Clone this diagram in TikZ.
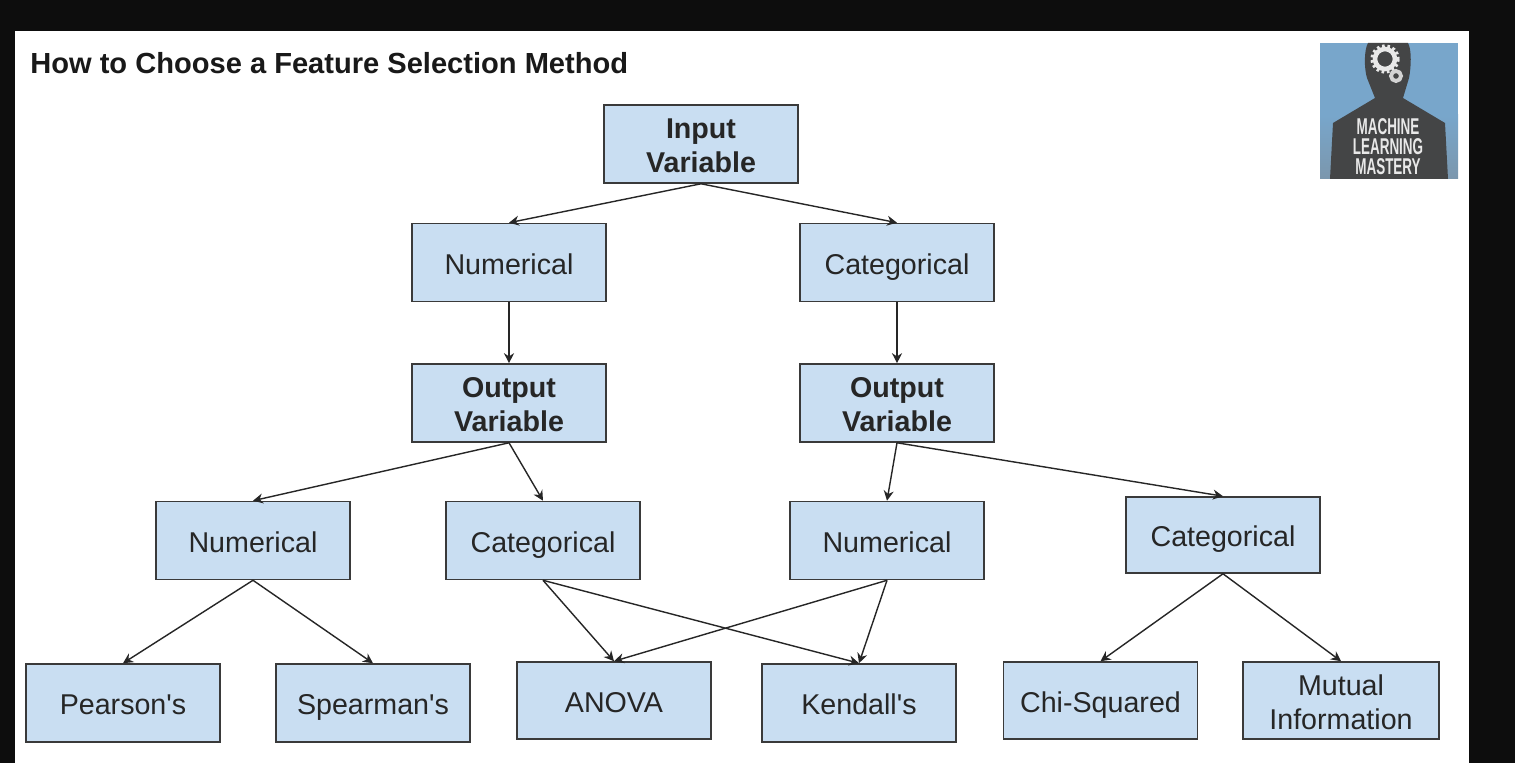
\documentclass[tikz,border=0pt]{standalone}
\usepackage{fontspec}
\setmainfont{Liberation Sans}
\usetikzlibrary{arrows.meta}

\definecolor{boxblue}{HTML}{C9DEF2}
\definecolor{boxline}{HTML}{3A3A3A}
\definecolor{darkbg}{HTML}{0D0D0D}
\definecolor{logoblue}{HTML}{78A6CB}
\definecolor{logogrey}{HTML}{444546}
\definecolor{logotext}{HTML}{E8E8E8}

\newcommand{\boxstrut}{\rule[-3.5pt]{0pt}{20.3pt}}
\newcommand{\firststrut}{\rule{0pt}{16.8pt}}

\tikzset{
  box/.style={draw=boxline, fill=boxblue, line width=0.9pt, minimum width=3.88cm, minimum height=1.56cm,
    inner sep=0pt, align=center, font=\fontsize{16.3}{19.3}\selectfont, text=black!85,
    execute at end node=\boxstrut},
  boxhead/.style={box, font=\fontsize{16.3}{19.3}\selectfont\bfseries},
  link/.style={draw=black!85, line width=0.8pt, ->, >={Stealth[length=2mm,width=2mm]}},
  logoword/.style={text=logotext, xscale=0.59, font=\fontsize{13}{15}\selectfont\bfseries, inner sep=0pt},
}

\begin{document}
\begin{tikzpicture}[x=0.02cm, y=-0.02cm]
  \useasboundingbox (0,0) rectangle (1515,763);
  \fill[darkbg] (0,0) rectangle (1515,763);
  \fill[white] (15,31) rectangle (1469,763);
  \node[anchor=base west, inner sep=0pt, font=\fontsize{16.55}{19}\selectfont\bfseries, text=black!90] (title) at (30,74) {How to Choose a Feature Selection Method};

  % logo
  \fill[logoblue] (1320,43) rectangle (1458,179);
  \shade[top color=logoblue, bottom color=logoblue!60!gray] (1320,115) rectangle (1458,179);
  \fill[logogrey] (1368,43) -- (1408,43) .. controls (1412,50) and (1411,68) .. (1409,78)
    -- (1403,98) -- (1445,123) -- (1448,179) -- (1330,179) -- (1333,123) -- (1375,98)
    -- (1367,78) .. controls (1364,68) and (1364,50) .. (1368,43) -- cycle;
  \draw[logotext, line width=2.6pt] (1385,59) circle (10);
  \draw[logotext, line width=2pt, dash pattern=on 1.5pt off 1.5pt] (1385,59) circle (13);
  \draw[logotext!80!gray, line width=2.2pt] (1396,76) circle (5);
  \node[logoword] (wordone) at (1388,127) {MACHINE};
  \node[logoword] (wordtwo) at (1388,147) {LEARNING};
  \node[logoword] (wordthree) at (1388,167) {MASTERY};

  \node[boxhead] (input) at (701,144) {\firststrut Input\\Variable};
  \node[box] (numone) at (509,262.5) {Numerical};
  \node[box] (catone) at (897,262.5) {Categorical};
  \node[boxhead] (outone) at (509,403) {\firststrut Output\\Variable};
  \node[boxhead] (outtwo) at (897,403) {\firststrut Output\\Variable};
  \node[box] (numtwo) at (253,540.5) {Numerical};
  \node[box] (cattwo) at (543,540.5) {Categorical};
  \node[box] (numthree) at (887,540.5) {Numerical};
  \node[box, minimum height=1.52cm] (catthree) at (1223,535) {Categorical};
  \node[box] (pearson) at (123,703) {Pearson\textquotesingle s};
  \node[box] (spearman) at (373,703) {Spearman\textquotesingle s};
  \node[box, minimum height=1.54cm] (anova) at (614,700.5) {ANOVA};
  \node[box] (kendall) at (859,703) {Kendall\textquotesingle s};
  \node[box, minimum height=1.54cm] (chi) at (1100.5,700.5) {Chi-Squared};
  \node[box, minimum height=1.54cm, minimum width=3.92cm] (mutual) at (1341,700.5) {\firststrut Mutual\\Information};

  \draw[link] (input.south) -- (numone.north);
  \draw[link] (input.south) -- (catone.north);
  \draw[link] (numone.south) -- (outone.north);
  \draw[link] (catone.south) -- (outtwo.north);
  \draw[link] (outone.south) -- (numtwo.north);
  \draw[link] (outone.south) -- (cattwo.north);
  \draw[link] (outtwo.south) -- (numthree.north);
  \draw[link] (outtwo.south) -- (catthree.north);
  \draw[link] (numtwo.south) -- (pearson.north);
  \draw[link] (numtwo.south) -- (spearman.north);
  \draw[link] (cattwo.south) -- (anova.north);
  \draw[link] (cattwo.south) -- (kendall.north);
  \draw[link] (numthree.south) -- (anova.north);
  \draw[link] (numthree.south) -- (kendall.north);
  \draw[link] (catthree.south) -- (chi.north);
  \draw[link] (catthree.south) -- (mutual.north);
\end{tikzpicture}
\end{document}
